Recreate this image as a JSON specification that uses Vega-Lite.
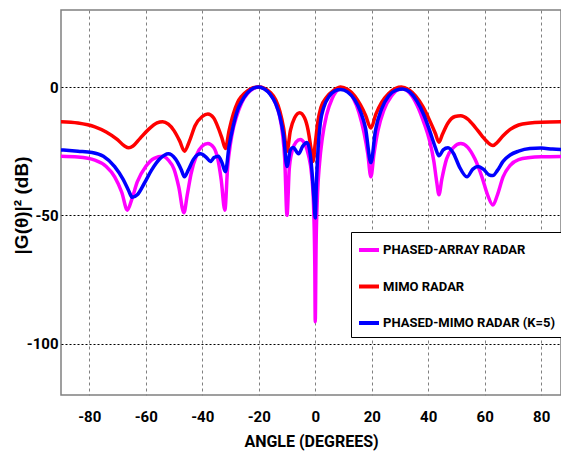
{
  "$schema": "https://vega.github.io/schema/vega-lite/v6.json",
  "width": 500,
  "height": 385,
  "autosize": "none",
  "padding": {"left": 61, "top": 10, "right": 0, "bottom": 61},
  "background": "white",
  "config": {
    "view": {"stroke": "#808080", "strokeWidth": 1.5},
    "font": "Roboto",
    "axis": {
      "labelFont": "Roboto",
      "labelFontWeight": "bold",
      "labelFontSize": 15,
      "labelColor": "black",
      "titleColor": "black",
      "ticks": false,
      "domain": false
    },
    "legend": {
      "labelFont": "Roboto",
      "labelFontWeight": "bold",
      "labelFontSize": 13,
      "labelColor": "black"
    }
  },
  "data": {
    "values": [
      {"series": "PHASED-ARRAY RADAR", "angle": -90, "gain": -27},
      {"series": "PHASED-ARRAY RADAR", "angle": -84, "gain": -27.3},
      {"series": "PHASED-ARRAY RADAR", "angle": -78, "gain": -28.5},
      {"series": "PHASED-ARRAY RADAR", "angle": -74, "gain": -31},
      {"series": "PHASED-ARRAY RADAR", "angle": -71, "gain": -35},
      {"series": "PHASED-ARRAY RADAR", "angle": -68.5, "gain": -41},
      {"series": "PHASED-ARRAY RADAR", "angle": -66.5, "gain": -48},
      {"series": "PHASED-ARRAY RADAR", "angle": -65, "gain": -44},
      {"series": "PHASED-ARRAY RADAR", "angle": -63, "gain": -37},
      {"series": "PHASED-ARRAY RADAR", "angle": -60, "gain": -31},
      {"series": "PHASED-ARRAY RADAR", "angle": -57, "gain": -27.8},
      {"series": "PHASED-ARRAY RADAR", "angle": -54, "gain": -27},
      {"series": "PHASED-ARRAY RADAR", "angle": -52, "gain": -28.5},
      {"series": "PHASED-ARRAY RADAR", "angle": -50, "gain": -32},
      {"series": "PHASED-ARRAY RADAR", "angle": -48.3, "gain": -39},
      {"series": "PHASED-ARRAY RADAR", "angle": -46.5, "gain": -49},
      {"series": "PHASED-ARRAY RADAR", "angle": -45.3, "gain": -42},
      {"series": "PHASED-ARRAY RADAR", "angle": -44, "gain": -34},
      {"series": "PHASED-ARRAY RADAR", "angle": -42, "gain": -26.5},
      {"series": "PHASED-ARRAY RADAR", "angle": -40, "gain": -23},
      {"series": "PHASED-ARRAY RADAR", "angle": -38, "gain": -22},
      {"series": "PHASED-ARRAY RADAR", "angle": -36, "gain": -23.5},
      {"series": "PHASED-ARRAY RADAR", "angle": -34.5, "gain": -28},
      {"series": "PHASED-ARRAY RADAR", "angle": -33.3, "gain": -36},
      {"series": "PHASED-ARRAY RADAR", "angle": -32, "gain": -48},
      {"series": "PHASED-ARRAY RADAR", "angle": -31, "gain": -31},
      {"series": "PHASED-ARRAY RADAR", "angle": -30, "gain": -22},
      {"series": "PHASED-ARRAY RADAR", "angle": -29, "gain": -16},
      {"series": "PHASED-ARRAY RADAR", "angle": -28, "gain": -12},
      {"series": "PHASED-ARRAY RADAR", "angle": -26, "gain": -6},
      {"series": "PHASED-ARRAY RADAR", "angle": -24, "gain": -2.6},
      {"series": "PHASED-ARRAY RADAR", "angle": -22, "gain": -0.7},
      {"series": "PHASED-ARRAY RADAR", "angle": -20, "gain": 0},
      {"series": "PHASED-ARRAY RADAR", "angle": -18, "gain": -0.7},
      {"series": "PHASED-ARRAY RADAR", "angle": -16, "gain": -2.6},
      {"series": "PHASED-ARRAY RADAR", "angle": -14, "gain": -6.5},
      {"series": "PHASED-ARRAY RADAR", "angle": -12.7, "gain": -11},
      {"series": "PHASED-ARRAY RADAR", "angle": -11.6, "gain": -18},
      {"series": "PHASED-ARRAY RADAR", "angle": -10.8, "gain": -28},
      {"series": "PHASED-ARRAY RADAR", "angle": -10, "gain": -50},
      {"series": "PHASED-ARRAY RADAR", "angle": -9.2, "gain": -32},
      {"series": "PHASED-ARRAY RADAR", "angle": -8.2, "gain": -25},
      {"series": "PHASED-ARRAY RADAR", "angle": -6.8, "gain": -21.5},
      {"series": "PHASED-ARRAY RADAR", "angle": -5.3, "gain": -20.5},
      {"series": "PHASED-ARRAY RADAR", "angle": -3.8, "gain": -22},
      {"series": "PHASED-ARRAY RADAR", "angle": -2.4, "gain": -26.5},
      {"series": "PHASED-ARRAY RADAR", "angle": -1.3, "gain": -34},
      {"series": "PHASED-ARRAY RADAR", "angle": -0.6, "gain": -46},
      {"series": "PHASED-ARRAY RADAR", "angle": -0.15, "gain": -70},
      {"series": "PHASED-ARRAY RADAR", "angle": 0, "gain": -91.5},
      {"series": "PHASED-ARRAY RADAR", "angle": 0.3, "gain": -62},
      {"series": "PHASED-ARRAY RADAR", "angle": 0.8, "gain": -42},
      {"series": "PHASED-ARRAY RADAR", "angle": 1.5, "gain": -30},
      {"series": "PHASED-ARRAY RADAR", "angle": 2.5, "gain": -20},
      {"series": "PHASED-ARRAY RADAR", "angle": 4, "gain": -11},
      {"series": "PHASED-ARRAY RADAR", "angle": 6, "gain": -4.5},
      {"series": "PHASED-ARRAY RADAR", "angle": 9, "gain": -0.8},
      {"series": "PHASED-ARRAY RADAR", "angle": 11.5, "gain": -1.5},
      {"series": "PHASED-ARRAY RADAR", "angle": 13.5, "gain": -4.5},
      {"series": "PHASED-ARRAY RADAR", "angle": 15.5, "gain": -10},
      {"series": "PHASED-ARRAY RADAR", "angle": 17.3, "gain": -18},
      {"series": "PHASED-ARRAY RADAR", "angle": 18.6, "gain": -26},
      {"series": "PHASED-ARRAY RADAR", "angle": 19.7, "gain": -35},
      {"series": "PHASED-ARRAY RADAR", "angle": 20.8, "gain": -26},
      {"series": "PHASED-ARRAY RADAR", "angle": 22.2, "gain": -17},
      {"series": "PHASED-ARRAY RADAR", "angle": 24.3, "gain": -9},
      {"series": "PHASED-ARRAY RADAR", "angle": 27, "gain": -3.5},
      {"series": "PHASED-ARRAY RADAR", "angle": 29.5, "gain": -1},
      {"series": "PHASED-ARRAY RADAR", "angle": 31, "gain": -0.8},
      {"series": "PHASED-ARRAY RADAR", "angle": 33.5, "gain": -2.5},
      {"series": "PHASED-ARRAY RADAR", "angle": 36, "gain": -7},
      {"series": "PHASED-ARRAY RADAR", "angle": 38.5, "gain": -14},
      {"series": "PHASED-ARRAY RADAR", "angle": 40.5, "gain": -21},
      {"series": "PHASED-ARRAY RADAR", "angle": 42, "gain": -29},
      {"series": "PHASED-ARRAY RADAR", "angle": 43, "gain": -37},
      {"series": "PHASED-ARRAY RADAR", "angle": 43.8, "gain": -42},
      {"series": "PHASED-ARRAY RADAR", "angle": 44.8, "gain": -36},
      {"series": "PHASED-ARRAY RADAR", "angle": 46.5, "gain": -28},
      {"series": "PHASED-ARRAY RADAR", "angle": 49, "gain": -23.5},
      {"series": "PHASED-ARRAY RADAR", "angle": 51.5, "gain": -22},
      {"series": "PHASED-ARRAY RADAR", "angle": 54, "gain": -23.5},
      {"series": "PHASED-ARRAY RADAR", "angle": 56.5, "gain": -28},
      {"series": "PHASED-ARRAY RADAR", "angle": 59, "gain": -35},
      {"series": "PHASED-ARRAY RADAR", "angle": 61, "gain": -42},
      {"series": "PHASED-ARRAY RADAR", "angle": 62.9, "gain": -46},
      {"series": "PHASED-ARRAY RADAR", "angle": 64.5, "gain": -42},
      {"series": "PHASED-ARRAY RADAR", "angle": 66.5, "gain": -35},
      {"series": "PHASED-ARRAY RADAR", "angle": 69, "gain": -30.5},
      {"series": "PHASED-ARRAY RADAR", "angle": 72, "gain": -28.3},
      {"series": "PHASED-ARRAY RADAR", "angle": 76, "gain": -27.5},
      {"series": "PHASED-ARRAY RADAR", "angle": 80, "gain": -27.2},
      {"series": "PHASED-ARRAY RADAR", "angle": 90, "gain": -27},

      {"series": "MIMO RADAR", "angle": -90, "gain": -13.5},
      {"series": "MIMO RADAR", "angle": -84, "gain": -14},
      {"series": "MIMO RADAR", "angle": -78, "gain": -15.5},
      {"series": "MIMO RADAR", "angle": -74, "gain": -17.5},
      {"series": "MIMO RADAR", "angle": -70, "gain": -20.5},
      {"series": "MIMO RADAR", "angle": -67.5, "gain": -23},
      {"series": "MIMO RADAR", "angle": -66, "gain": -23.7},
      {"series": "MIMO RADAR", "angle": -64.5, "gain": -23},
      {"series": "MIMO RADAR", "angle": -62, "gain": -20},
      {"series": "MIMO RADAR", "angle": -59, "gain": -16.5},
      {"series": "MIMO RADAR", "angle": -56, "gain": -14},
      {"series": "MIMO RADAR", "angle": -54, "gain": -13.5},
      {"series": "MIMO RADAR", "angle": -52, "gain": -14.5},
      {"series": "MIMO RADAR", "angle": -50, "gain": -17},
      {"series": "MIMO RADAR", "angle": -48, "gain": -21},
      {"series": "MIMO RADAR", "angle": -46.3, "gain": -25},
      {"series": "MIMO RADAR", "angle": -44.5, "gain": -21},
      {"series": "MIMO RADAR", "angle": -42.5, "gain": -15},
      {"series": "MIMO RADAR", "angle": -40, "gain": -11.5},
      {"series": "MIMO RADAR", "angle": -38, "gain": -10.5},
      {"series": "MIMO RADAR", "angle": -36, "gain": -12},
      {"series": "MIMO RADAR", "angle": -34.3, "gain": -16},
      {"series": "MIMO RADAR", "angle": -33, "gain": -20},
      {"series": "MIMO RADAR", "angle": -31.8, "gain": -24},
      {"series": "MIMO RADAR", "angle": -30.5, "gain": -17},
      {"series": "MIMO RADAR", "angle": -29, "gain": -10.5},
      {"series": "MIMO RADAR", "angle": -27.5, "gain": -6},
      {"series": "MIMO RADAR", "angle": -26, "gain": -3.5},
      {"series": "MIMO RADAR", "angle": -24, "gain": -1.5},
      {"series": "MIMO RADAR", "angle": -22, "gain": -0.3},
      {"series": "MIMO RADAR", "angle": -20, "gain": 0},
      {"series": "MIMO RADAR", "angle": -18, "gain": -0.5},
      {"series": "MIMO RADAR", "angle": -16, "gain": -2},
      {"series": "MIMO RADAR", "angle": -14, "gain": -5},
      {"series": "MIMO RADAR", "angle": -12.5, "gain": -9.5},
      {"series": "MIMO RADAR", "angle": -11.2, "gain": -16},
      {"series": "MIMO RADAR", "angle": -10, "gain": -25},
      {"series": "MIMO RADAR", "angle": -8.8, "gain": -17},
      {"series": "MIMO RADAR", "angle": -7.3, "gain": -12},
      {"series": "MIMO RADAR", "angle": -5.5, "gain": -10},
      {"series": "MIMO RADAR", "angle": -3.8, "gain": -12},
      {"series": "MIMO RADAR", "angle": -2.5, "gain": -17},
      {"series": "MIMO RADAR", "angle": -1.5, "gain": -24},
      {"series": "MIMO RADAR", "angle": -0.8, "gain": -29},
      {"series": "MIMO RADAR", "angle": 0, "gain": -22},
      {"series": "MIMO RADAR", "angle": 1, "gain": -13},
      {"series": "MIMO RADAR", "angle": 2, "gain": -8},
      {"series": "MIMO RADAR", "angle": 4, "gain": -4},
      {"series": "MIMO RADAR", "angle": 6.5, "gain": -1.3},
      {"series": "MIMO RADAR", "angle": 9, "gain": 0},
      {"series": "MIMO RADAR", "angle": 11.5, "gain": -1},
      {"series": "MIMO RADAR", "angle": 14, "gain": -3.5},
      {"series": "MIMO RADAR", "angle": 16, "gain": -7},
      {"series": "MIMO RADAR", "angle": 17.8, "gain": -11},
      {"series": "MIMO RADAR", "angle": 19.7, "gain": -16},
      {"series": "MIMO RADAR", "angle": 21.5, "gain": -10.5},
      {"series": "MIMO RADAR", "angle": 23.5, "gain": -6},
      {"series": "MIMO RADAR", "angle": 26, "gain": -2.5},
      {"series": "MIMO RADAR", "angle": 28.5, "gain": -0.5},
      {"series": "MIMO RADAR", "angle": 30.5, "gain": 0},
      {"series": "MIMO RADAR", "angle": 33, "gain": -1},
      {"series": "MIMO RADAR", "angle": 35.5, "gain": -3.5},
      {"series": "MIMO RADAR", "angle": 38, "gain": -7.5},
      {"series": "MIMO RADAR", "angle": 40.5, "gain": -13},
      {"series": "MIMO RADAR", "angle": 42.5, "gain": -18},
      {"series": "MIMO RADAR", "angle": 43.8, "gain": -21.5},
      {"series": "MIMO RADAR", "angle": 45, "gain": -18.5},
      {"series": "MIMO RADAR", "angle": 47, "gain": -14},
      {"series": "MIMO RADAR", "angle": 49.5, "gain": -11.5},
      {"series": "MIMO RADAR", "angle": 51.5, "gain": -11.2},
      {"series": "MIMO RADAR", "angle": 54, "gain": -12.5},
      {"series": "MIMO RADAR", "angle": 56.5, "gain": -15.5},
      {"series": "MIMO RADAR", "angle": 59, "gain": -19},
      {"series": "MIMO RADAR", "angle": 61, "gain": -21.5},
      {"series": "MIMO RADAR", "angle": 62.9, "gain": -22.8},
      {"series": "MIMO RADAR", "angle": 64.5, "gain": -21.5},
      {"series": "MIMO RADAR", "angle": 66.5, "gain": -19},
      {"series": "MIMO RADAR", "angle": 69, "gain": -16.5},
      {"series": "MIMO RADAR", "angle": 72, "gain": -14.8},
      {"series": "MIMO RADAR", "angle": 76, "gain": -14},
      {"series": "MIMO RADAR", "angle": 80, "gain": -13.7},
      {"series": "MIMO RADAR", "angle": 90, "gain": -13.5},

      {"series": "PHASED-MIMO RADAR (K=5)", "angle": -90, "gain": -24.5},
      {"series": "PHASED-MIMO RADAR (K=5)", "angle": -84, "gain": -25},
      {"series": "PHASED-MIMO RADAR (K=5)", "angle": -79, "gain": -25.5},
      {"series": "PHASED-MIMO RADAR (K=5)", "angle": -75, "gain": -27},
      {"series": "PHASED-MIMO RADAR (K=5)", "angle": -71, "gain": -31},
      {"series": "PHASED-MIMO RADAR (K=5)", "angle": -68, "gain": -36},
      {"series": "PHASED-MIMO RADAR (K=5)", "angle": -66, "gain": -40.5},
      {"series": "PHASED-MIMO RADAR (K=5)", "angle": -64.8, "gain": -43},
      {"series": "PHASED-MIMO RADAR (K=5)", "angle": -63, "gain": -42},
      {"series": "PHASED-MIMO RADAR (K=5)", "angle": -60.5, "gain": -37.5},
      {"series": "PHASED-MIMO RADAR (K=5)", "angle": -58, "gain": -32.5},
      {"series": "PHASED-MIMO RADAR (K=5)", "angle": -55, "gain": -28},
      {"series": "PHASED-MIMO RADAR (K=5)", "angle": -52, "gain": -26},
      {"series": "PHASED-MIMO RADAR (K=5)", "angle": -49.5, "gain": -28},
      {"series": "PHASED-MIMO RADAR (K=5)", "angle": -47.5, "gain": -32},
      {"series": "PHASED-MIMO RADAR (K=5)", "angle": -46.3, "gain": -35},
      {"series": "PHASED-MIMO RADAR (K=5)", "angle": -45, "gain": -32.5},
      {"series": "PHASED-MIMO RADAR (K=5)", "angle": -43, "gain": -28},
      {"series": "PHASED-MIMO RADAR (K=5)", "angle": -40.6, "gain": -26},
      {"series": "PHASED-MIMO RADAR (K=5)", "angle": -38.5, "gain": -27.5},
      {"series": "PHASED-MIMO RADAR (K=5)", "angle": -37.1, "gain": -29},
      {"series": "PHASED-MIMO RADAR (K=5)", "angle": -35.8, "gain": -27.5},
      {"series": "PHASED-MIMO RADAR (K=5)", "angle": -34.3, "gain": -27},
      {"series": "PHASED-MIMO RADAR (K=5)", "angle": -33, "gain": -29.5},
      {"series": "PHASED-MIMO RADAR (K=5)", "angle": -31.8, "gain": -33},
      {"series": "PHASED-MIMO RADAR (K=5)", "angle": -30.5, "gain": -23},
      {"series": "PHASED-MIMO RADAR (K=5)", "angle": -29, "gain": -15},
      {"series": "PHASED-MIMO RADAR (K=5)", "angle": -27.5, "gain": -9},
      {"series": "PHASED-MIMO RADAR (K=5)", "angle": -26, "gain": -5.5},
      {"series": "PHASED-MIMO RADAR (K=5)", "angle": -24, "gain": -2.3},
      {"series": "PHASED-MIMO RADAR (K=5)", "angle": -22, "gain": -0.5},
      {"series": "PHASED-MIMO RADAR (K=5)", "angle": -20, "gain": 0},
      {"series": "PHASED-MIMO RADAR (K=5)", "angle": -18, "gain": -0.8},
      {"series": "PHASED-MIMO RADAR (K=5)", "angle": -16, "gain": -2.8},
      {"series": "PHASED-MIMO RADAR (K=5)", "angle": -14, "gain": -6.5},
      {"series": "PHASED-MIMO RADAR (K=5)", "angle": -12.5, "gain": -11.5},
      {"series": "PHASED-MIMO RADAR (K=5)", "angle": -11.2, "gain": -19},
      {"series": "PHASED-MIMO RADAR (K=5)", "angle": -10, "gain": -31},
      {"series": "PHASED-MIMO RADAR (K=5)", "angle": -8.8, "gain": -24.5},
      {"series": "PHASED-MIMO RADAR (K=5)", "angle": -7.8, "gain": -23.6},
      {"series": "PHASED-MIMO RADAR (K=5)", "angle": -5.9, "gain": -26},
      {"series": "PHASED-MIMO RADAR (K=5)", "angle": -4.4, "gain": -23},
      {"series": "PHASED-MIMO RADAR (K=5)", "angle": -2.9, "gain": -21.6},
      {"series": "PHASED-MIMO RADAR (K=5)", "angle": -1.8, "gain": -26},
      {"series": "PHASED-MIMO RADAR (K=5)", "angle": -1, "gain": -35},
      {"series": "PHASED-MIMO RADAR (K=5)", "angle": -0.4, "gain": -45},
      {"series": "PHASED-MIMO RADAR (K=5)", "angle": 0, "gain": -51},
      {"series": "PHASED-MIMO RADAR (K=5)", "angle": 0.4, "gain": -38},
      {"series": "PHASED-MIMO RADAR (K=5)", "angle": 1, "gain": -24},
      {"series": "PHASED-MIMO RADAR (K=5)", "angle": 1.8, "gain": -14},
      {"series": "PHASED-MIMO RADAR (K=5)", "angle": 3, "gain": -8},
      {"series": "PHASED-MIMO RADAR (K=5)", "angle": 5, "gain": -3.5},
      {"series": "PHASED-MIMO RADAR (K=5)", "angle": 7, "gain": -1.5},
      {"series": "PHASED-MIMO RADAR (K=5)", "angle": 9, "gain": -1},
      {"series": "PHASED-MIMO RADAR (K=5)", "angle": 11.5, "gain": -2},
      {"series": "PHASED-MIMO RADAR (K=5)", "angle": 14, "gain": -5},
      {"series": "PHASED-MIMO RADAR (K=5)", "angle": 16, "gain": -9.5},
      {"series": "PHASED-MIMO RADAR (K=5)", "angle": 17.8, "gain": -16},
      {"series": "PHASED-MIMO RADAR (K=5)", "angle": 19.7, "gain": -29.5},
      {"series": "PHASED-MIMO RADAR (K=5)", "angle": 21.3, "gain": -17},
      {"series": "PHASED-MIMO RADAR (K=5)", "angle": 23.5, "gain": -8.5},
      {"series": "PHASED-MIMO RADAR (K=5)", "angle": 26, "gain": -3.5},
      {"series": "PHASED-MIMO RADAR (K=5)", "angle": 28.5, "gain": -1.3},
      {"series": "PHASED-MIMO RADAR (K=5)", "angle": 31, "gain": -0.8},
      {"series": "PHASED-MIMO RADAR (K=5)", "angle": 33.5, "gain": -2},
      {"series": "PHASED-MIMO RADAR (K=5)", "angle": 36, "gain": -5.5},
      {"series": "PHASED-MIMO RADAR (K=5)", "angle": 38.5, "gain": -11},
      {"series": "PHASED-MIMO RADAR (K=5)", "angle": 40.5, "gain": -17},
      {"series": "PHASED-MIMO RADAR (K=5)", "angle": 42.5, "gain": -23.5},
      {"series": "PHASED-MIMO RADAR (K=5)", "angle": 43.8, "gain": -26.8},
      {"series": "PHASED-MIMO RADAR (K=5)", "angle": 45.3, "gain": -24.5},
      {"series": "PHASED-MIMO RADAR (K=5)", "angle": 47, "gain": -23.7},
      {"series": "PHASED-MIMO RADAR (K=5)", "angle": 49, "gain": -26},
      {"series": "PHASED-MIMO RADAR (K=5)", "angle": 51, "gain": -31},
      {"series": "PHASED-MIMO RADAR (K=5)", "angle": 53.7, "gain": -35},
      {"series": "PHASED-MIMO RADAR (K=5)", "angle": 55.8, "gain": -32},
      {"series": "PHASED-MIMO RADAR (K=5)", "angle": 57.6, "gain": -31},
      {"series": "PHASED-MIMO RADAR (K=5)", "angle": 59.5, "gain": -32},
      {"series": "PHASED-MIMO RADAR (K=5)", "angle": 61.5, "gain": -34.2},
      {"series": "PHASED-MIMO RADAR (K=5)", "angle": 62.9, "gain": -34.5},
      {"series": "PHASED-MIMO RADAR (K=5)", "angle": 64.5, "gain": -32.5},
      {"series": "PHASED-MIMO RADAR (K=5)", "angle": 66.5, "gain": -29},
      {"series": "PHASED-MIMO RADAR (K=5)", "angle": 69, "gain": -26.5},
      {"series": "PHASED-MIMO RADAR (K=5)", "angle": 72, "gain": -25},
      {"series": "PHASED-MIMO RADAR (K=5)", "angle": 76, "gain": -24},
      {"series": "PHASED-MIMO RADAR (K=5)", "angle": 80, "gain": -23.8},
      {"series": "PHASED-MIMO RADAR (K=5)", "angle": 84, "gain": -24.2},
      {"series": "PHASED-MIMO RADAR (K=5)", "angle": 90, "gain": -24.5}
    ]
  },
  "mark": {"type": "line", "interpolate": "monotone", "strokeWidth": 3.5, "clip": true, "strokeCap": "round", "strokeJoin": "round"},
  "encoding": {
    "x": {
      "field": "angle",
      "type": "quantitative",
      "scale": {"domain": [-90, 87], "nice": false, "zero": false},
      "axis": {
        "values": [-80, -60, -40, -20, 0, 20, 40, 60, 80],
        "labelExpr": "'' + datum.value",
        "labelPadding": 14,
        "title": "ANGLE (DEGREES)",
        "titleFont": "Roboto",
        "titleFontWeight": "bold",
        "titleFontSize": 16,
        "titlePadding": 9,
        "grid": true,
        "gridColor": "#808080",
        "gridDash": [3, 3],
        "gridWidth": 1
      }
    },
    "y": {
      "field": "gain",
      "type": "quantitative",
      "scale": {"domain": [-120, 30], "nice": false, "zero": false},
      "axis": {
        "values": [-100, -50, 0],
        "labelExpr": "'' + datum.value",
        "labelPadding": 3,
        "title": "|G(θ)|² (dB)",
        "titleFont": "Liberation Sans",
        "titleFontWeight": "bold",
        "titleFontSize": 19,
        "titleX": -30,
        "titleY": 195,
        "grid": true,
        "gridColor": "black",
        "gridDash": [2, 2],
        "gridWidth": 1
      }
    },
    "color": {
      "field": "series",
      "type": "nominal",
      "sort": null,
      "scale": {
        "domain": ["PHASED-ARRAY RADAR", "MIMO RADAR", "PHASED-MIMO RADAR (K=5)"],
        "range": ["#FF00FF", "#FF0000", "#0000FF"]
      },
      "legend": {
        "title": null,
        "orient": "none",
        "legendX": 290,
        "legendY": 222,
        "symbolType": "stroke",
        "symbolSize": 400,
        "symbolStrokeWidth": 4,
        "strokeColor": "black",
        "fillColor": "white",
        "padding": 6,
        "rowPadding": 16.5,
        "labelOffset": 2,
        "labelLimit": 0
      }
    }
  }
}
